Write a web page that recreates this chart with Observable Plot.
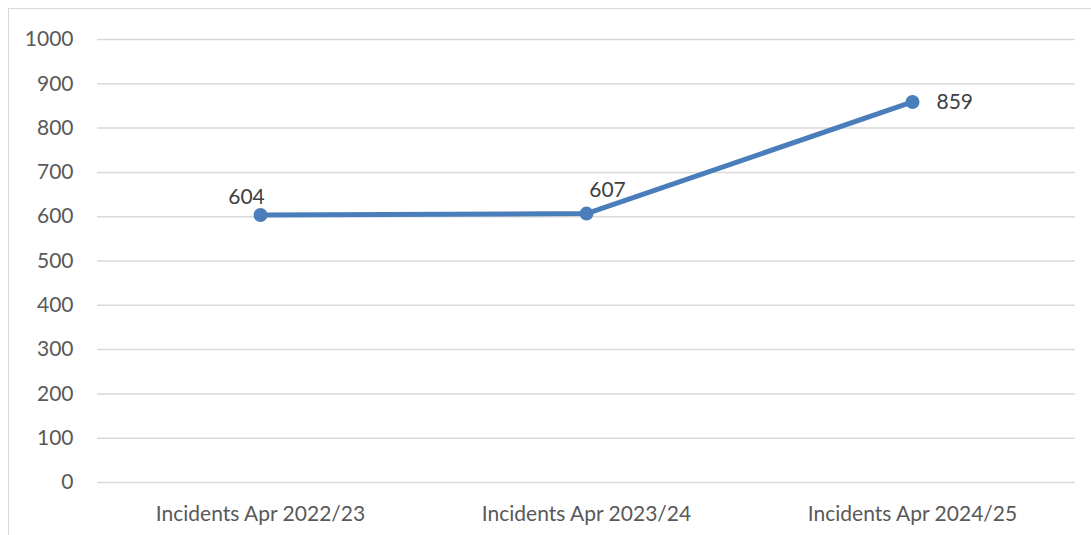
<!DOCTYPE html>
<html>
<head>
<meta charset="utf-8">
<script src="https://cdn.jsdelivr.net/npm/d3@7"></script>
<script src="https://cdn.jsdelivr.net/npm/@observablehq/plot@0.6"></script>
<style>
  html, body { margin: 0; padding: 0; background: #fff; overflow: hidden; }
  #wrap { position: relative; width: 1091px; height: 535px; }
  #border { position: absolute; left: 8px; top: 8px; width: 1100px; height: 540px; border: 1.5px solid #d9d9d9; box-sizing: border-box; pointer-events: none; }
  #chart { position: absolute; left: 0; top: 0; }
</style>
</head>
<body>
<div id="wrap"><div id="border"></div><div id="chart"></div></div>
<script>
const categories = ["Incidents Apr 2022/23", "Incidents Apr 2023/24", "Incidents Apr 2024/25"];
const values = [604, 607, 859];
const yTicks = [0, 100, 200, 300, 400, 500, 600, 700, 800, 900, 1000];
const labelDx = [-14, 21, 24];
const labelDy = [-18, -23, 0];
const labelAnchor = ["middle", "middle", "start"];

const data = categories.map((c, i) => ({cat: c, value: values[i], dx: labelDx[i], dy: labelDy[i], anchor: labelAnchor[i]}));

const font = "Lato, 'Open Sans', sans-serif";
const lineColor = "#4a7ebb";
const fs = 21;

const labelMarks = data.map(d => Plot.text([d], {
  x: "cat", y: "value", text: d => String(d.value),
  dx: d.dx, dy: d.dy, textAnchor: d.anchor,
  fill: "#404040", fontSize: fs, fontFamily: font
}));

const chart = Plot.plot({
  width: 1091,
  height: 535,
  marginLeft: 97,
  marginRight: 16,
  marginTop: 39,
  marginBottom: 53,
  style: { fontFamily: font, fontSize: fs + "px", color: "#595959", background: "transparent" },
  x: { type: "point", domain: categories, padding: 0.5, label: null },
  y: { domain: [0, 1000], ticks: yTicks, label: null },
  marks: [
    Plot.ruleY(yTicks, { stroke: "#d9d9d9", strokeWidth: 1.5 }),
    Plot.axisY({ ticks: yTicks, tickSize: 0, tickPadding: 24, fontSize: fs, fill: "#595959", label: null, tickFormat: d => String(d) }),
    Plot.axisX({ tickSize: 0, tickPadding: 24, fontSize: fs, fill: "#595959", label: null }),
    Plot.line(data, { x: "cat", y: "value", stroke: lineColor, strokeWidth: 5 }),
    Plot.dot(data, { x: "cat", y: "value", r: 7, fill: lineColor, stroke: "none" }),
    ...labelMarks
  ]
});
document.getElementById("chart").appendChild(chart);
</script>
</body>
</html>
